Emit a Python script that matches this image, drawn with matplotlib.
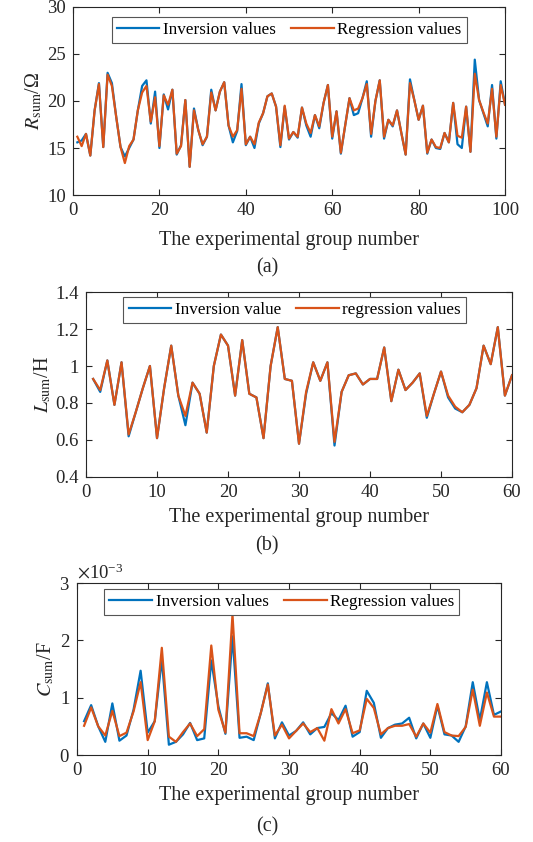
import numpy as np
import matplotlib
matplotlib.use("Agg")
import matplotlib.pyplot as plt
from matplotlib.ticker import FuncFormatter

plt.rcParams['font.family'] = ['Liberation Serif', 'DejaVu Serif']
plt.rcParams['mathtext.fontset'] = 'stix'

# panel (a): R_sum, 100 groups
a_inv = [15.6, 15.8, 16.5, 14.2, 19.0, 21.9, 15.1, 23.0, 21.9, 18.3,
         15.1, 14.1, 15.0, 15.9, 19.0, 21.6, 22.2, 17.6, 21.0, 15.0,
         20.7, 19.1, 21.2, 14.3, 15.3, 20.1, 13.0, 19.2, 16.9, 15.3,
         16.2, 21.2, 19.0, 21.0, 22.0, 17.4, 15.6, 16.8, 21.8, 15.3,
         16.2, 15.0, 17.6, 18.7, 20.5, 20.8, 19.4, 15.1, 19.4, 15.9,
         16.7, 16.1, 19.3, 17.4, 16.2, 18.5, 17.1, 19.8, 21.7, 16.0,
         18.9, 14.4, 17.4, 20.3, 18.5, 18.7, 20.3, 22.1, 16.2, 20.0,
         22.2, 16.0, 18.0, 17.3, 19.0, 16.6, 14.3, 22.3, 20.1, 18.0,
         19.5, 14.4, 15.9, 15.0, 14.9, 16.6, 15.6, 19.8, 15.4, 15.0,
         19.4, 14.6, 24.4, 20.1, 18.7, 17.3, 21.7, 16.0, 22.1, 19.6]
a_reg = [16.2, 15.2, 16.5, 14.2, 19.0, 21.8, 15.1, 22.8, 21.6, 18.3,
         15.1, 13.4, 15.2, 15.9, 19.0, 20.9, 21.6, 17.8, 20.4, 15.2,
         20.6, 19.6, 21.2, 14.4, 15.2, 20.1, 13.0, 19.0, 16.9, 15.4,
         16.2, 20.9, 19.0, 21.0, 22.0, 17.4, 16.2, 16.9, 21.3, 15.4,
         16.2, 15.4, 17.7, 18.7, 20.5, 20.8, 19.4, 15.3, 19.5, 16.0,
         16.7, 16.2, 19.3, 17.6, 16.6, 18.5, 17.3, 19.8, 21.7, 16.2,
         18.9, 14.5, 17.4, 20.3, 19.0, 19.2, 20.3, 21.8, 16.5, 20.0,
         22.2, 16.2, 18.0, 17.4, 19.0, 16.6, 14.3, 21.9, 20.1, 18.0,
         19.5, 14.5, 15.9, 15.1, 15.0, 16.6, 15.6, 19.8, 16.3, 16.1,
         19.4, 14.6, 22.9, 20.1, 18.8, 17.6, 21.3, 16.2, 21.7, 19.6]

# panel (b): L_sum, 60 groups
b_inv = [0.93, 0.86, 1.03, 0.79, 1.02, 0.62, 0.75, 0.88, 1.00, 0.61,
         0.88, 1.11, 0.84, 0.68, 0.91, 0.85, 0.64, 1.00, 1.17, 1.11,
         0.84, 1.14, 0.85, 0.83, 0.61, 1.00, 1.21, 0.93, 0.92, 0.58,
         0.85, 1.02, 0.92, 1.02, 0.57, 0.86, 0.95, 0.96, 0.90, 0.93,
         0.93, 1.10, 0.81, 0.98, 0.87, 0.91, 0.96, 0.72, 0.85, 0.97,
         0.83, 0.77, 0.75, 0.79, 0.88, 1.11, 1.01, 1.21, 0.84, 0.95]
b_reg = [0.93, 0.87, 1.03, 0.79, 1.02, 0.63, 0.75, 0.88, 1.00, 0.61,
         0.88, 1.11, 0.84, 0.73, 0.91, 0.85, 0.64, 1.00, 1.17, 1.11,
         0.84, 1.14, 0.85, 0.83, 0.61, 1.00, 1.21, 0.93, 0.92, 0.58,
         0.86, 1.02, 0.92, 1.02, 0.59, 0.86, 0.95, 0.96, 0.90, 0.93,
         0.93, 1.10, 0.81, 0.98, 0.87, 0.91, 0.96, 0.73, 0.85, 0.97,
         0.84, 0.78, 0.75, 0.79, 0.88, 1.11, 1.01, 1.21, 0.84, 0.95]

# panel (c): C_sum in units of 1e-3 F, 60 groups
c_inv = [0.59, 0.87, 0.50, 0.23, 0.90, 0.25, 0.34, 0.79, 1.47, 0.39,
         0.59, 1.67, 0.18, 0.23, 0.36, 0.56, 0.26, 0.29, 1.65, 0.85,
         0.37, 2.07, 0.30, 0.32, 0.26, 0.73, 1.25, 0.29, 0.57, 0.34,
         0.42, 0.57, 0.36, 0.47, 0.49, 0.73, 0.61, 0.86, 0.32, 0.40,
         1.12, 0.91, 0.30, 0.47, 0.53, 0.55, 0.65, 0.29, 0.55, 0.30,
         0.86, 0.36, 0.34, 0.23, 0.50, 1.27, 0.61, 1.27, 0.70, 0.76]
c_reg = [0.51, 0.83, 0.50, 0.34, 0.77, 0.33, 0.39, 0.76, 1.27, 0.26,
         0.59, 1.87, 0.32, 0.23, 0.40, 0.55, 0.33, 0.45, 1.91, 0.79,
         0.39, 2.45, 0.38, 0.38, 0.33, 0.73, 1.23, 0.34, 0.53, 0.29,
         0.42, 0.55, 0.40, 0.47, 0.25, 0.80, 0.55, 0.80, 0.38, 0.43,
         0.98, 0.82, 0.36, 0.47, 0.51, 0.51, 0.54, 0.32, 0.55, 0.39,
         0.89, 0.40, 0.34, 0.33, 0.49, 1.14, 0.51, 1.09, 0.67, 0.67]

blue = '#0072BD'
red = '#D95319'
dark = '#262626'

fig = plt.figure(figsize=(5.33, 8.42), dpi=100)

panels = [
    dict(rect=[0.137, 0.7684, 0.8105, 0.2233], inv=a_inv, reg=a_reg, scale=1,
         xlim=(0, 100), xt=np.arange(0, 101, 20), ylim=(10, 30), yt=np.arange(10, 31, 5),
         ylabel=r'$R_{\mathrm{sum}}$/Ω', labels=('Inversion values', 'Regression values'),
         leg_x=0.5, leg_y=0.947, xpad=9, cap='(a)', cap_y=268),
    dict(rect=[0.1614, 0.4335, 0.7992, 0.2197], inv=b_inv, reg=b_reg, scale=1,
         xlim=(0, 60), xt=np.arange(0, 61, 10), ylim=(0.4, 1.4), yt=np.arange(0.4, 1.41, 0.2),
         ylabel=r'$L_{\mathrm{sum}}$/H', labels=('Inversion value', 'regression values'),
         leg_x=0.49, leg_y=0.973, xpad=5, cap='(b)', cap_y=546),
    dict(rect=[0.1445, 0.1033, 0.7955, 0.2043], inv=c_inv, reg=c_reg, scale=1e-3,
         xlim=(0, 60), xt=np.arange(0, 61, 10), ylim=(0, 3e-3), yt=np.arange(0, 3.1e-3, 1e-3),
         ylabel=r'$C_{\mathrm{sum}}$/F', labels=('Inversion values', 'Regression values'),
         leg_x=0.483, leg_y=0.965, xpad=5, cap='(c)', cap_y=827),
]

for p in panels:
    ax = fig.add_axes(p['rect'])
    n = len(p['inv'])
    x = np.arange(1, n + 1)
    ax.plot(x, np.array(p['inv']) * p['scale'], color=blue, lw=1.6, label=p['labels'][0])
    ax.plot(x, np.array(p['reg']) * p['scale'], color=red, lw=1.6, label=p['labels'][1])
    ax.set_xlim(*p['xlim'])
    ax.set_ylim(*p['ylim'])
    ax.set_xticks(p['xt'])
    ax.set_yticks(p['yt'])
    ax.tick_params(direction='in', top=True, right=True, length=4, width=0.8,
                   labelsize=13.5, colors=dark, pad=5)
    for s in ax.spines.values():
        s.set_color(dark)
        s.set_linewidth(0.8)
    if p['scale'] == 1e-3:
        ax.ticklabel_format(axis='y', style='sci', scilimits=(0, 0), useMathText=True)
        ax.yaxis.get_offset_text().set_fontsize(13.5)
    else:
        ax.yaxis.set_major_formatter(FuncFormatter(lambda v, pos: '%g' % round(v, 3)))
    ax.set_xlabel('The experimental group number', fontsize=14.5, color=dark, labelpad=p['xpad'])
    ax.set_ylabel(p['ylabel'], fontsize=14.5, color=dark, labelpad=2)
    leg = ax.legend(loc='upper center', bbox_to_anchor=(p['leg_x'], p['leg_y']), ncol=2,
                    fontsize=12.3, frameon=True, fancybox=False, framealpha=1,
                    edgecolor='#555555', handlelength=2.5, columnspacing=0.9,
                    handletextpad=0.2, borderpad=0.3, borderaxespad=0)
    leg.get_frame().set_linewidth(0.8)
    fig.text(267 / 533, 1 - p['cap_y'] / 842, p['cap'], ha='center', va='center',
             fontsize=14.5, color=dark)

fig.savefig('out.png', dpi=100)
